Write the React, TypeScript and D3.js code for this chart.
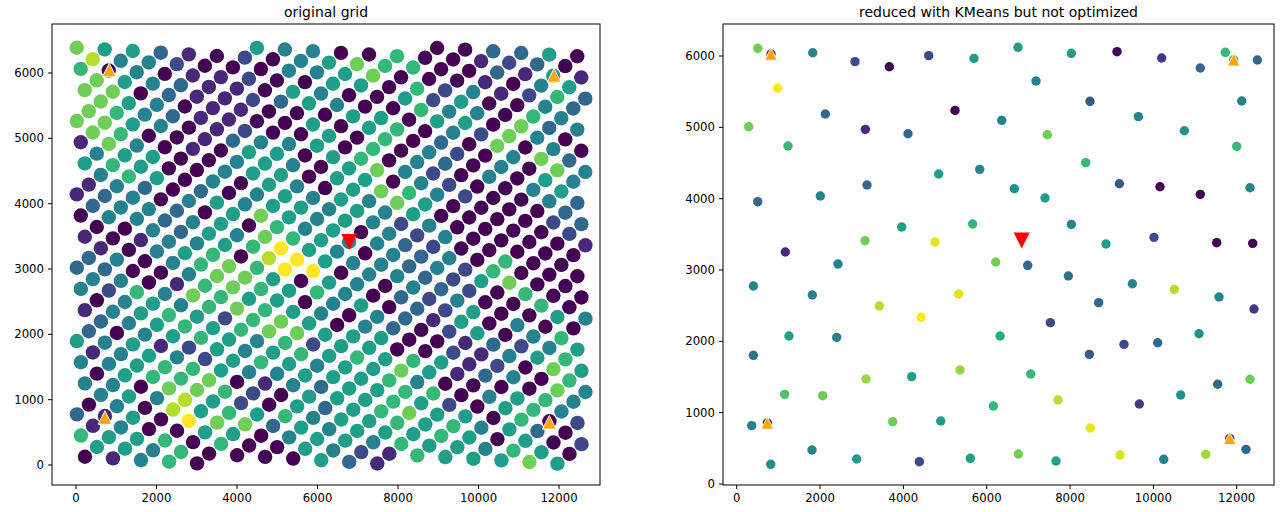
import React from 'react';
import * as d3 from 'd3';

const W = 1284;
const H = 512;

// ---------- axes ticks ----------
const xTicks = [0, 2000, 4000, 6000, 8000, 10000, 12000];
const yTicks = [0, 1000, 2000, 3000, 4000, 5000, 6000];

// ---------- left panel: original grid (lattice) ----------
const gridOrigin = [17.4, 6387];          // first dot of row 0
const gridStepRow = [696.4, -25.3];       // step between neighbours in a row
const gridStepNext = [-298.3, -149.5];    // step from one row to the next
const gridFirstRow = -2;
const gridRowStart = [12, 6, 0, 1, 1, 2, 2, 3, 3, 3, 4, 4, 5, 5, 6, 6, 6, 7, 7, 8, 8, 9, 9, 9, 10, 10, 11, 11, 12, 12, 12, 13, 13, 14, 14, 15, 15, 15, 16, 16, 17, 17];
// colour level per dot (0 = dark purple ... 9 = yellow)
const gridRowCodes = [
  '003350',
  '544006001230',
  '7553102045766003151',
  '844200044570001045',
  '6040112005506241263',
  '754311054005250043',
  '770311235400644064',
  '754011000550550734',
  '764311005056042740',
  '7754012005060307040',
  '760013445060420473',
  '1740105505604304074',
  '455004540574204054',
  '565004550550420045',
  '465040540576420043',
  '143030454547500003',
  '1340454554545000023',
  '344305754542400002',
  '0443450645042400001',
  '004354765443200000',
  '101445695404340600',
  '104560895443426000',
  '340467699044325700',
  '3300477505404320600',
  '440167656403240060',
  '4264765504503250054',
  '045467654043150400',
  '145652675043025046',
  '345656775550013245',
  '304565462550021456',
  '5451254565656512075',
  '145425654557513406',
  '4456654455564000074',
  '056670143556604564',
  '440776205556520564',
  '454852053567550602',
  '040856564556564530',
  '3150977354555650502',
  '140055045546554650',
  '655606005421655575',
  '55460000531',
  '01460',
];

const leftOrangeX = [827, 11876, 720, 11759];
const leftOrangeY = [6046, 5964, 727, 653];
const leftRed = [6790, 3413];

// ---------- right panel: KMeans centres ----------
const kmX = [504, 1824, 2839, 3663, 4608, 5695, 984, 2127, 5239, 6360, 288, 3087, 4111, 1231, 4848, 5832, 504, 2007, 3127, 3960,
  5663, 3079, 4759, 6216, 1167, 2431, 400, 1815, 3423, 5328, 4424, 1255, 2400, 6320, 400, 3103, 4200, 5359, 1151, 2063,
  6159, 360, 3743, 4896, 1807, 816, 2880, 4383, 5607, 6751, 8031, 9127, 10200, 11126, 11726, 12495, 7183, 8479, 12120, 9640,
  7455, 10743, 12000, 8376, 6663, 7399, 9183, 10159, 11126, 12319, 8031, 8863, 10015, 11520, 12384, 6984, 7959, 9495, 10503, 11575,
  12415, 8687, 7527, 8463, 9295, 10103, 11095, 7056, 7711, 9663, 10655, 11543, 12319, 8487, 12223, 6759, 7663, 9199, 10248, 11256];
const kmY = [6108, 6046, 5921, 5850, 6005, 5967, 5551, 5187, 5238, 5098, 5009, 4972, 4911, 4738, 4346, 4411, 3958, 4037, 4192, 3603,
  3645, 3411, 3393, 3112, 3252, 3084, 2776, 2650, 2495, 2664, 2337, 2075, 2056, 2075, 1804, 1472, 1505, 1598, 1257, 1238,
  1093, 818, 874, 883, 477, 276, 350, 313, 360, 6122, 6038, 6061, 5972, 5832, 6052, 5944, 5650, 5365, 5369, 5150,
  4897, 4953, 4734, 4505, 4140, 4009, 4210, 4168, 4061, 4154, 3640, 3364, 3458, 3383, 3374, 3066, 2916, 2808, 2729, 2622,
  2453, 2542, 2262, 1818, 1958, 1981, 2107, 1542, 1178, 1122, 1248, 1398, 1468, 785, 486, 420, 322, 407, 346, 416];
const kmC = [7, 4, 2, 0, 2, 5, 9, 3, 0, 4, 7, 1, 3, 6, 5, 4, 3, 4, 3, 5,
  6, 7, 8.6, 7, 1, 4, 4, 4, 8, 8.6, 9, 5, 4, 5.5, 3.5, 7.5, 5, 7.5, 6.5, 7,
  6, 4, 7, 5, 4, 4.5, 5, 2, 5, 5, 5, 0, 1.5, 3, 6, 3, 4, 2.5, 4, 4,
  7, 4.5, 6, 6, 4.5, 5, 2.5, 0, 0, 4, 4, 5, 2, 0, 0, 3, 3.5, 4, 8, 4,
  1.5, 3, 2, 2.5, 2, 3, 4.5, 6, 8, 1.5, 4.5, 3, 7, 8.7, 3, 7, 5, 8.5, 4, 7.7];

const rightOrangeX = [823, 11928, 735, 11832];
const rightOrangeY = [6028, 5948, 856, 640];
const rightOrangeUnder = [1, 6, 1, 1];
const rightRed = [6840, 3413];

const FONT = 'DejaVu Sans, sans-serif';

type Frame = { x0: number; x1: number; y0: number; y1: number };

function Axes({ frame, xs, ys, title }: { frame: Frame; xs: any; ys: any; title: string }) {
  return (
    <g>
      <rect x={frame.x0} y={frame.y0} width={frame.x1 - frame.x0} height={frame.y1 - frame.y0}
        fill="none" stroke="#000" strokeWidth={1} />
      {xTicks.map((t) => (
        <g key={'x' + t}>
          <line x1={xs(t)} x2={xs(t)} y1={frame.y1} y2={frame.y1 + 4} stroke="#000" strokeWidth={1} />
          <text x={xs(t)} y={frame.y1 + 17} textAnchor="middle" fontFamily={FONT} fontSize={11.7} fill="#000">{t}</text>
        </g>
      ))}
      {yTicks.map((t) => (
        <g key={'y' + t}>
          <line x1={frame.x0 - 4} x2={frame.x0} y1={ys(t)} y2={ys(t)} stroke="#000" strokeWidth={1} />
          <text x={frame.x0 - 8} y={ys(t)} textAnchor="end" dominantBaseline="central" fontFamily={FONT} fontSize={11.7} fill="#000">{t}</text>
        </g>
      ))}
      <text x={(frame.x0 + frame.x1) / 2} y={frame.y0 - 7} textAnchor="middle" fontFamily={FONT} fontSize={14} fill="#000">{title}</text>
    </g>
  );
}

function triUp(x: number, y: number, r: number) {
  return `M${x},${y - r}L${x - r},${y + r}L${x + r},${y + r}Z`;
}
function triDown(x: number, y: number, r: number) {
  return `M${x},${y + r}L${x - r},${y - r}L${x + r},${y - r}Z`;
}

export default function App() {
  const leftFrame = { x0: 52, x1: 600, y0: 24, y1: 485 };
  const rightFrame = { x0: 723, x1: 1274, y0: 24, y1: 485 };

  const xL = d3.scaleLinear().domain([-596, 13018]).range([leftFrame.x0, leftFrame.x1]);
  const yL = d3.scaleLinear().domain([-306, 6750]).range([leftFrame.y1, leftFrame.y0]);
  const xR = d3.scaleLinear().domain([-329, 12895]).range([rightFrame.x0, rightFrame.x1]);
  const yR = d3.scaleLinear().domain([-14, 6449]).range([rightFrame.y1, rightFrame.y0]);

  const color = (v: number) => d3.interpolateViridis(Math.max(0, Math.min(1, v / 9)));

  const gridPoints = gridRowCodes.flatMap((codes, i) => {
    const n = gridFirstRow + i;
    return codes.split('').map((ch, k) => {
      const m = gridRowStart[i] + k;
      return {
        x: gridOrigin[0] + m * gridStepRow[0] + n * gridStepNext[0],
        y: gridOrigin[1] + m * gridStepRow[1] + n * gridStepNext[1],
        v: +ch,
      };
    });
  });

  const kmPoints = kmX.map((x, i) => ({ x, y: kmY[i], v: kmC[i] }));

  return (
    <svg width={W} height={H} style={{ position: 'absolute', left: 0, top: 0, background: '#fff' }}>
      <rect x={0} y={0} width={W} height={H} fill="#fff" />
      {/* left panel */}
      <g>
        {gridPoints.map((p, i) => (
          <circle key={i} cx={xL(p.x)} cy={yL(p.y)} r={7.2} fill={color(p.v)} />
        ))}
        {leftOrangeX.map((x, i) => (
          <path key={i} d={triUp(xL(x), yL(leftOrangeY[i]), 6.8)} fill="#ffa500" stroke="#fff" strokeWidth={1} />
        ))}
        <path d={triDown(xL(leftRed[0]), yL(leftRed[1]), 8)} fill="#ff0000" />
      </g>
      <Axes frame={leftFrame} xs={xL} ys={yL} title="original grid" />

      {/* right panel */}
      <g>
        {kmPoints.map((p, i) => (
          <circle key={i} cx={xR(p.x)} cy={yR(p.y)} r={4.7} fill={color(p.v)} />
        ))}
        {rightOrangeX.map((x, i) => (
          <circle key={'u' + i} cx={xR(x)} cy={yR(rightOrangeY[i])} r={4.7} fill={color(rightOrangeUnder[i])} />
        ))}
        {rightOrangeX.map((x, i) => (
          <path key={i} d={triUp(xR(x), yR(rightOrangeY[i]), 6.2)} fill="#ffa500" stroke="#fff" strokeWidth={0.8} />
        ))}
        <path d={triDown(xR(rightRed[0]), yR(rightRed[1]), 8)} fill="#ff0000" />
      </g>
      <Axes frame={rightFrame} xs={xR} ys={yR} title="reduced with KMeans but not optimized" />
    </svg>
  );
}
